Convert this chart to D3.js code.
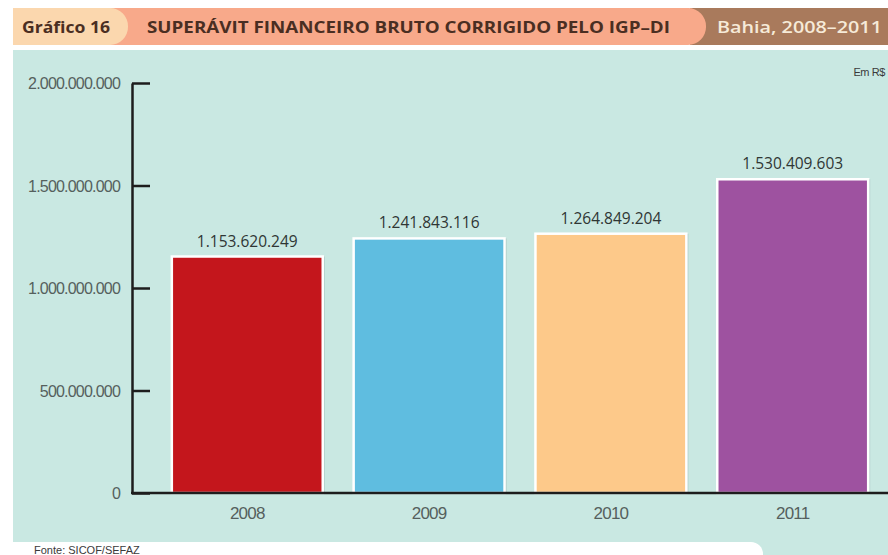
<!DOCTYPE html>
<html>
<head>
<meta charset="utf-8">
<script src="https://cdn.jsdelivr.net/npm/d3@7"></script>
<style>
  body { margin: 0; background: #fff; }
  svg { display: block; }
</style>
</head>
<body>
<script>
const years = ["2008", "2009", "2010", "2011"];
const values = [1153620249, 1241843116, 1264849204, 1530409603];
const barColors = ["#c4161c", "#5fbde0", "#fdc98a", "#9e52a0"];
const yTicks = [0, 500000000, 1000000000, 1500000000, 2000000000];

const width = 888;
const height = 555;

const locale = d3.formatLocale({ decimal: ",", thousands: ".", grouping: [3], currency: ["R$", ""] });
const fmt = locale.format(",d");

const svg = d3.select("body").append("svg")
    .attr("width", width)
    .attr("height", height);

// fundo
svg.append("rect")
    .attr("x", 13).attr("y", 50)
    .attr("width", width - 13).attr("height", height - 50)
    .attr("fill", "#c9e8e2");

// faixa do título
svg.append("rect")
    .attr("x", 690).attr("y", 8)
    .attr("width", width - 690).attr("height", 37)
    .attr("fill", "#a97a5c");
svg.append("path")
    .attr("d", "M13,8 H688 A18,18 0 0 1 706,26.5 A18,18 0 0 1 688,45 H13 Z")
    .attr("fill", "#f8a98a");
svg.append("path")
    .attr("d", "M13,8 H110 A18,18 0 0 1 128,26.5 A18,18 0 0 1 110,45 H13 Z")
    .attr("fill", "#fbd7ae");

svg.append("text")
    .attr("x", 22).attr("y", 33)
    .attr("font-family", "'Open Sans', sans-serif")
    .attr("font-weight", "bold")
    .attr("font-size", 16.5)
    .attr("fill", "#4a2e22")
    .attr("textLength", 88)
    .attr("lengthAdjust", "spacingAndGlyphs")
    .text("Gráfico 16");

svg.append("text")
    .attr("x", 147).attr("y", 33)
    .attr("font-family", "'Open Sans', sans-serif")
    .attr("font-weight", "bold")
    .attr("font-size", 16.5)
    .attr("fill", "#4a2e22")
    .attr("textLength", 523)
    .attr("lengthAdjust", "spacingAndGlyphs")
    .text("SUPERÁVIT FINANCEIRO BRUTO CORRIGIDO PELO IGP–DI");

svg.append("text")
    .attr("x", 717).attr("y", 33)
    .attr("font-family", "'Open Sans', sans-serif")
    .attr("font-weight", 600)
    .attr("font-size", 16.5)
    .attr("fill", "#f6ead8")
    .attr("textLength", 165)
    .attr("lengthAdjust", "spacingAndGlyphs")
    .text("Bahia, 2008–2011");

// escalas
const x = d3.scaleBand()
    .domain(years)
    .range([150, 890])
    .paddingInner(0.17)
    .paddingOuter(0.12);

const y = d3.scaleLinear()
    .domain([0, 2000000000])
    .range([493, 83]);

// barras
svg.selectAll(".shadow")
    .data(values)
    .enter()
    .append("rect")
    .attr("x", (d, i) => x(years[i]) + 2)
    .attr("y", d => y(d))
    .attr("width", x.bandwidth())
    .attr("height", d => y(0) - y(d))
    .attr("fill", "#9fb8b4")
    .attr("opacity", 0.6);

svg.selectAll(".bar")
    .data(values)
    .enter()
    .append("rect")
    .attr("class", "bar")
    .attr("x", (d, i) => x(years[i]))
    .attr("y", d => y(d))
    .attr("width", x.bandwidth())
    .attr("height", d => y(0) - y(d))
    .attr("fill", (d, i) => barColors[i])
    .attr("stroke", "#ffffff")
    .attr("stroke-width", 2.5);

svg.selectAll(".val")
    .data(values)
    .enter()
    .append("text")
    .attr("x", (d, i) => x(years[i]) + x.bandwidth() / 2)
    .attr("y", d => y(d) - 10)
    .attr("text-anchor", "middle")
    .attr("font-family", "'Open Sans', sans-serif")
    .attr("font-size", 15.5)
    .attr("fill", "#2f3634")
    .text(d => fmt(d));

// eixo y
const yAxis = svg.append("g")
    .attr("transform", "translate(132,0)")
    .call(d3.axisLeft(y)
        .tickValues(yTicks)
        .tickFormat(fmt)
        .tickSizeInner(-18)
        .tickSizeOuter(0)
        .tickPadding(12));
yAxis.select(".domain").attr("stroke", "#1d1d1d").attr("stroke-width", 2.5);
yAxis.selectAll(".tick line").attr("stroke", "#1d1d1d").attr("stroke-width", 2.5);
yAxis.selectAll(".tick text")
    .attr("font-family", "'Liberation Sans', 'Roboto', sans-serif")
    .attr("font-size", 16)
    .attr("letter-spacing", -0.8)
    .attr("fill", "#55605d")
    .attr("dy", "0.35em");

// eixo x
const xAxis = svg.append("g")
    .attr("transform", `translate(0,${y(0)})`)
    .call(d3.axisBottom(x).tickSize(0).tickPadding(14));
xAxis.select(".domain").remove();
xAxis.append("line")
    .attr("x1", 131).attr("x2", width)
    .attr("stroke", "#1d1d1d")
    .attr("stroke-width", 2.5);
xAxis.selectAll(".tick text")
    .attr("font-family", "'Liberation Sans', 'Roboto', sans-serif")
    .attr("font-size", 17)
    .attr("letter-spacing", -0.8)
    .attr("fill", "#55605d");

svg.append("text")
    .attr("x", 885).attr("y", 76)
    .attr("text-anchor", "end")
    .attr("font-family", "'Liberation Sans', sans-serif")
    .attr("font-size", 11)
    .attr("letter-spacing", -0.4)
    .attr("fill", "#3a3a3a")
    .text("Em R$");

// rodapé
svg.append("path")
    .attr("d", `M0,542 H751 A12,12 0 0 1 763,554 V${height} H0 Z`)
    .attr("fill", "#ffffff");

svg.append("text")
    .attr("x", 34).attr("y", 554)
    .attr("font-family", "'Liberation Sans', sans-serif")
    .attr("font-size", 11)
    .attr("fill", "#3a3a3a")
    .text("Fonte: SICOF/SEFAZ");
</script>
</body>
</html>
